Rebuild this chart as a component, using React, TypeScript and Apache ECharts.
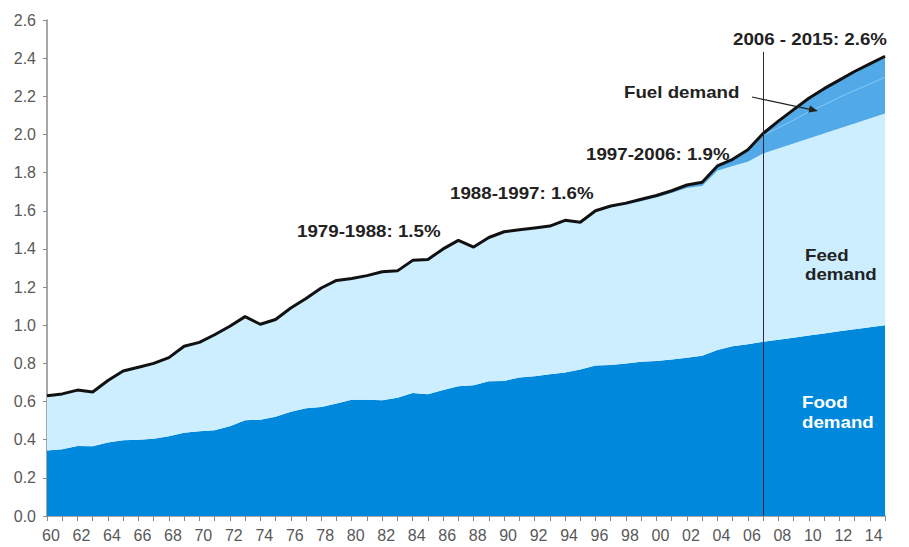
import React, { useEffect, useRef } from "react";
import * as echarts from "echarts";

const years = [
  "60","61","62","63","64","65","66","67","68","69",
  "70","71","72","73","74","75","76","77","78","79",
  "80","81","82","83","84","85","86","87","88","89",
  "90","91","92","93","94","95","96","97","98","99",
  "00","01","02","03","04","05","06","07","08","09",
  "10","11","12","13","14","15",
];

const foodDemand = [
  0.343, 0.35, 0.367, 0.365, 0.385, 0.397, 0.4, 0.405, 0.418, 0.437,
  0.444, 0.45, 0.47, 0.502, 0.505, 0.52, 0.546, 0.565, 0.572, 0.59,
  0.61, 0.61, 0.607, 0.62, 0.645, 0.638, 0.66, 0.68, 0.686, 0.707,
  0.708, 0.726, 0.733, 0.743, 0.752, 0.768, 0.789, 0.792, 0.8, 0.808,
  0.812, 0.82, 0.83, 0.84, 0.87, 0.89, 0.9, 0.913, 0.924, 0.935,
  0.946, 0.957, 0.968, 0.979, 0.99, 1.0,
];

const feedDemand = [
  0.287, 0.29, 0.293, 0.285, 0.325, 0.363, 0.38, 0.395, 0.412, 0.453,
  0.466, 0.5, 0.525, 0.543, 0.5, 0.51, 0.544, 0.575, 0.623, 0.645,
  0.635, 0.65, 0.673, 0.665, 0.695, 0.707, 0.74, 0.765, 0.724, 0.753,
  0.782, 0.774, 0.777, 0.777, 0.798, 0.772, 0.806, 0.828, 0.832, 0.842,
  0.858, 0.873, 0.89, 0.89, 0.94, 0.945, 0.957, 0.987, 1.002, 1.017,
  1.033, 1.048, 1.063, 1.078, 1.094, 1.11,
];

const fuelDemandA = [
  0, 0, 0, 0, 0, 0, 0, 0, 0, 0,
  0, 0, 0, 0, 0, 0, 0, 0, 0, 0,
  0, 0, 0, 0, 0, 0, 0, 0, 0, 0,
  0, 0, 0, 0, 0, 0, 0.005, 0.005, 0.008, 0.01,
  0.01, 0.012, 0.015, 0.02, 0.025, 0.035, 0.063, 0.095, 0.109, 0.123,
  0.141, 0.15, 0.164, 0.173, 0.181, 0.19,
];

const fuelDemandB = [
  0, 0, 0, 0, 0, 0, 0, 0, 0, 0,
  0, 0, 0, 0, 0, 0, 0, 0, 0, 0,
  0, 0, 0, 0, 0, 0, 0, 0, 0, 0,
  0, 0, 0, 0, 0, 0, 0, 0, 0, 0,
  0, 0, 0, 0, 0, 0, 0, 0.01, 0.035, 0.055,
  0.07, 0.085, 0.09, 0.1, 0.105, 0.11,
];

const FONT = "Liberation Sans, Arial, sans-serif";

function txt(text: string, x: number, y: number, color = "#222") {
  return {
    type: "text",
    x,
    y,
    scaleX: 1.17,
    style: {
      text,
      fill: color,
      font: `bold 16px ${FONT}`,
      textAlign: "left",
      textVerticalAlign: "middle",
    },
    z: 100,
  };
}

export default function App() {
  const ref = useRef<HTMLDivElement>(null);

  useEffect(() => {
    document.body.style.margin = "0";
    const chart = echarts.init(ref.current!, null, { renderer: "svg" });
    const axisLabel = { color: "#595959", fontSize: 16, fontFamily: FONT };
    const arrowEnd = [818, 111];
    chart.setOption({
      animation: false,
      backgroundColor: "#fff",
      grid: { left: 47, right: 24, top: 20, bottom: 31 },
      xAxis: {
        type: "category",
        data: years,
        boundaryGap: false,
        axisLine: { lineStyle: { color: "#8a8a8a", width: 1.5 } },
        axisTick: { interval: 0, length: 5, lineStyle: { color: "#8a8a8a" } },
        axisLabel: { ...axisLabel, interval: 1, margin: 11, padding: [0, 0, 0, 8] },
        splitLine: { show: false },
      },
      yAxis: {
        type: "value",
        min: 0,
        max: 2.6,
        interval: 0.2,
        axisLine: { show: true, lineStyle: { color: "#8a8a8a", width: 1.5 } },
        axisTick: { show: true, length: 4, lineStyle: { color: "#8a8a8a" } },
        axisLabel: { ...axisLabel, margin: 11, formatter: (v: number) => v.toFixed(1) },
        splitLine: { show: false },
      },
      series: [
        {
          name: "Food demand",
          type: "line",
          stack: "total",
          data: foodDemand,
          symbol: "none",
          lineStyle: { width: 0, opacity: 0 },
          areaStyle: { color: "#0088DC", opacity: 1 },
        },
        {
          name: "Feed demand",
          type: "line",
          stack: "total",
          data: feedDemand,
          symbol: "none",
          lineStyle: { width: 0, opacity: 0 },
          areaStyle: { color: "#CDEEFF", opacity: 1 },
        },
        {
          name: "Fuel demand A",
          type: "line",
          stack: "total",
          data: fuelDemandA,
          symbol: "none",
          lineStyle: { width: 1, color: "#80C6F2" },
          areaStyle: { color: "#52A9E8", opacity: 1 },
        },
        {
          name: "Fuel demand B",
          type: "line",
          stack: "total",
          data: fuelDemandB,
          symbol: "none",
          lineStyle: { width: 3, color: "#111" },
          areaStyle: { color: "#52A9E8", opacity: 1 },
        },
        {
          name: "divider",
          type: "line",
          data: [],
          markLine: {
            silent: true,
            symbol: "none",
            label: { show: false },
            lineStyle: { color: "#2a2a3a", width: 1, type: "solid" },
            data: [[{ coord: ["07", 0] }, { coord: ["07", 2.433] }]],
          },
        },
      ],
      graphic: [
        txt("1979-1988: 1.5%", 297, 231),
        txt("1988-1997: 1.6%", 450, 193),
        txt("1997-2006: 1.9%", 586, 154),
        txt("2006 - 2015: 2.6%", 733, 39),
        txt("Fuel demand", 624, 92),
        txt("Feed", 805, 255),
        txt("demand", 805, 274),
        txt("Food", 802, 402, "#fff"),
        txt("demand", 802, 422, "#fff"),
        {
          type: "line",
          shape: { x1: 752, y1: 97, x2: 810, y2: 109.3 },
          style: { stroke: "#222", lineWidth: 1.2 },
          z: 100,
        },
        {
          type: "polygon",
          shape: { points: [arrowEnd, [808.5, 112.6], [809.9, 105.6]] },
          style: { fill: "#222" },
          z: 100,
        },
      ],
    });
    return () => chart.dispose();
  }, []);

  return <div ref={ref} style={{ width: 909, height: 547 }} />;
}
